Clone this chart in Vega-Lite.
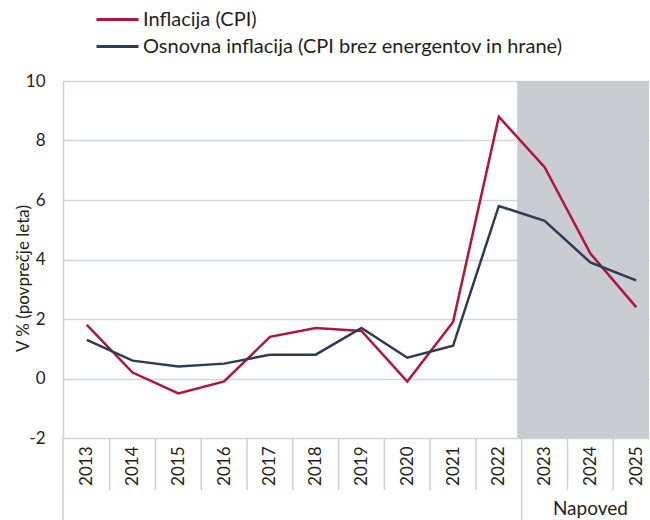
{
  "$schema": "https://vega.github.io/schema/vega-lite/v6.json",
  "width": 586,
  "height": 357,
  "autosize": {"type": "none"},
  "padding": {"left": 63, "top": 81, "right": 1, "bottom": 82},
  "background": "white",
  "config": {
    "view": {"stroke": null},
    "font": "Lato",
    "axis": {"labelColor": "#231f20", "titleColor": "#231f20", "labelFont": "Lato", "titleFont": "Lato"},
    "legend": {"labelFont": "Lato"}
  },
  "datasets": {
    "series": [
      {"year": 2013, "serija": "Inflacija (CPI)", "value": 1.8},
      {"year": 2014, "serija": "Inflacija (CPI)", "value": 0.2},
      {"year": 2015, "serija": "Inflacija (CPI)", "value": -0.5},
      {"year": 2016, "serija": "Inflacija (CPI)", "value": -0.1},
      {"year": 2017, "serija": "Inflacija (CPI)", "value": 1.4},
      {"year": 2018, "serija": "Inflacija (CPI)", "value": 1.7},
      {"year": 2019, "serija": "Inflacija (CPI)", "value": 1.6},
      {"year": 2020, "serija": "Inflacija (CPI)", "value": -0.1},
      {"year": 2021, "serija": "Inflacija (CPI)", "value": 1.9},
      {"year": 2022, "serija": "Inflacija (CPI)", "value": 8.8},
      {"year": 2023, "serija": "Inflacija (CPI)", "value": 7.1},
      {"year": 2024, "serija": "Inflacija (CPI)", "value": 4.2},
      {"year": 2025, "serija": "Inflacija (CPI)", "value": 2.4},
      {"year": 2013, "serija": "Osnovna inflacija (CPI brez energentov in hrane)", "value": 1.3},
      {"year": 2014, "serija": "Osnovna inflacija (CPI brez energentov in hrane)", "value": 0.6},
      {"year": 2015, "serija": "Osnovna inflacija (CPI brez energentov in hrane)", "value": 0.4},
      {"year": 2016, "serija": "Osnovna inflacija (CPI brez energentov in hrane)", "value": 0.5},
      {"year": 2017, "serija": "Osnovna inflacija (CPI brez energentov in hrane)", "value": 0.8},
      {"year": 2018, "serija": "Osnovna inflacija (CPI brez energentov in hrane)", "value": 0.8},
      {"year": 2019, "serija": "Osnovna inflacija (CPI brez energentov in hrane)", "value": 1.7},
      {"year": 2020, "serija": "Osnovna inflacija (CPI brez energentov in hrane)", "value": 0.7},
      {"year": 2021, "serija": "Osnovna inflacija (CPI brez energentov in hrane)", "value": 1.1},
      {"year": 2022, "serija": "Osnovna inflacija (CPI brez energentov in hrane)", "value": 5.8},
      {"year": 2023, "serija": "Osnovna inflacija (CPI brez energentov in hrane)", "value": 5.3},
      {"year": 2024, "serija": "Osnovna inflacija (CPI brez energentov in hrane)", "value": 3.9},
      {"year": 2025, "serija": "Osnovna inflacija (CPI brez energentov in hrane)", "value": 3.3}
    ],
    "separators": [
      {"meja": 2013.5}, {"meja": 2014.5}, {"meja": 2015.5}, {"meja": 2016.5},
      {"meja": 2017.5}, {"meja": 2018.5}, {"meja": 2019.5}, {"meja": 2020.5},
      {"meja": 2021.5}, {"meja": 2023.5}, {"meja": 2024.5}
    ],
    "longSeparators": [{"meja": 2012.48}, {"meja": 2022.5}],
    "napoved": [{"od": 2022.4, "do": 2025.28, "sredina": 2024, "oznaka": "Napoved"}]
  },
  "layer": [
    {
      "data": {"name": "napoved"},
      "mark": {"type": "rect", "color": "#c9ccd1"},
      "encoding": {
        "x": {"field": "od", "type": "quantitative", "scale": {"domain": [2012.48, 2025.28], "nice": false, "zero": false}},
        "x2": {"field": "do"},
        "y": {"datum": 10, "type": "quantitative"},
        "y2": {"datum": -2}
      }
    },
    {
      "mark": {"type": "rule", "color": "#6d6e71", "strokeWidth": 1.5},
      "encoding": {"y": {"datum": 0, "type": "quantitative"}}
    },
    {
      "data": {"name": "separators"},
      "mark": {"type": "rule", "color": "#cfd0d2", "strokeWidth": 1.5},
      "encoding": {
        "x": {"field": "meja", "type": "quantitative"},
        "y": {"datum": -2, "type": "quantitative"},
        "y2": {"datum": -3.75}
      }
    },
    {
      "data": {"name": "longSeparators"},
      "mark": {"type": "rule", "color": "#cfd0d2", "strokeWidth": 1.5},
      "encoding": {
        "x": {"field": "meja", "type": "quantitative"},
        "y": {"datum": -2, "type": "quantitative"},
        "y2": {"datum": -4.8}
      }
    },
    {
      "data": {"name": "napoved"},
      "mark": {"type": "text", "fontSize": 19, "color": "#231f20", "baseline": "middle", "align": "center"},
      "encoding": {
        "x": {"field": "sredina", "type": "quantitative"},
        "y": {"datum": -4.4, "type": "quantitative"},
        "text": {"field": "oznaka"}
      }
    },
    {
      "data": {"name": "series"},
      "mark": {"type": "line", "strokeWidth": 2.5},
      "encoding": {
        "x": {
          "field": "year", "type": "quantitative",
          "axis": {
            "values": [2013, 2014, 2015, 2016, 2017, 2018, 2019, 2020, 2021, 2022, 2023, 2024, 2025],
            "format": "d", "labelAngle": -90, "labelAlign": "right", "labelBaseline": "middle",
            "labelFontSize": 17, "labelPadding": 8, "ticks": false, "domain": false, "grid": false,
            "title": null, "labelFlush": false, "labelOverlap": false
          }
        },
        "y": {
          "field": "value", "type": "quantitative",
          "scale": {"domain": [-2, 10], "nice": false},
          "axis": {
            "values": [-2, 0, 2, 4, 6, 8, 10],
            "labelExpr": "datum.value + ''",
            "labelFontSize": 17, "labelPadding": 18, "ticks": false,
            "domain": true, "domainColor": "#cfd0d2", "domainWidth": 1.5,
            "grid": true, "gridColor": "#d4d5d7", "gridWidth": 1.5,
            "title": "V % (povprečje leta)", "titleFontSize": 17, "titleFontWeight": "normal",
            "titleX": -40, "titleY": 197, "titleAngle": -90, "titleBaseline": "middle", "titleAlign": "center"
          }
        },
        "color": {
          "field": "serija", "type": "nominal",
          "scale": {"domain": ["Inflacija (CPI)", "Osnovna inflacija (CPI brez energentov in hrane)"], "range": ["#b0153a", "#2f3a56"]},
          "legend": {
            "title": null, "orient": "none", "legendX": 38, "legendY": -78,
            "symbolType": "M-1.4,0L1.4,0", "symbolSize": 900, "symbolStrokeWidth": 3,
            "labelFontSize": 20, "labelColor": "#231f20", "labelOffset": 9, "rowPadding": 0, "labelLimit": 0
          }
        }
      }
    }
  ]
}
